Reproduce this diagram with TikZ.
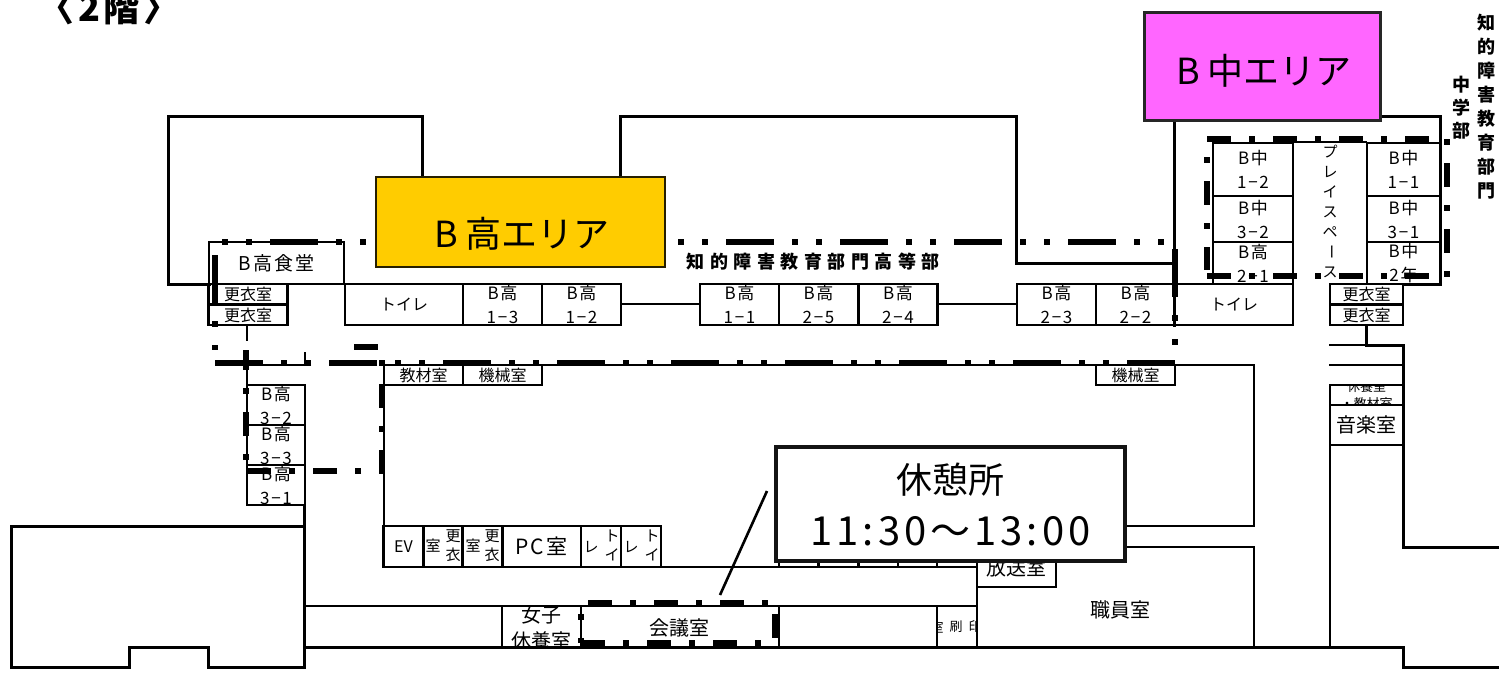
\documentclass[tikz,border=0pt]{standalone}
\usepackage{fontspec}
\setmainfont{Noto Sans CJK JP}
\newfontfamily\spacedfont[LetterSpace=10]{Noto Sans CJK JP}
\definecolor{areayellow}{rgb}{1,0.8,0}
\definecolor{areapink}{rgb}{1,0.4,1}
\begin{document}
\begin{tikzpicture}[
x=1pt, y=-1pt,
wall/.style ={line width=2.2pt, line cap=rect},
thickwall/.style ={line width=3pt, line join=miter, line cap=rect},
longchain/.style ={line width=6pt, dash pattern=on 48pt off 18pt on 6pt off 18pt on 6pt off 18pt},
shortchain/.style ={line width=6pt, dash pattern=on 24pt off 18pt on 6pt off 18pt},
room/.style ={shape=rectangle, draw, line width=2.2pt, inner sep=0pt, align=center, font=\fontsize{16}{24}\selectfont},
classroom/.style ={room, minimum width=79pt, minimum height=41pt, font=\spacedfont\fontsize{17}{24}\selectfont},
sideroom/.style ={classroom, minimum width=58pt, minimum height=40pt},
halfroom/.style ={room, minimum width=79pt, minimum height=20pt},
narrowroom/.style ={room, minimum width=40pt, minimum height=41pt},
label/.style ={inner sep=0pt, align=center, font=\fontsize{15}{24}\selectfont},
biglabel/.style ={inner sep=0pt, align=center, font=\fontsize{20}{26}\selectfont},
tinylabel/.style ={inner sep=0pt, font=\fontsize{15}{16}\selectfont},
boldlabel/.style ={inner sep=0pt, font=\fontsize{18}{20}\selectfont\bfseries},
arealabel/.style ={inner sep=0pt, font=\fontsize{36}{40}\selectfont},
]
\useasboundingbox (0,0) rectangle (1499,694);
% outer walls
\draw[thickwall] (422,178) -- (422,116) -- (168,116) -- (168,284) -- (209,284);
\draw[thickwall] (620,178) -- (620,116) -- (1016,116) -- (1016,263) -- (1175,263);
\draw[thickwall] (1380,116) -- (1440,116) -- (1440,284) -- (1403,284);
\draw[thickwall] (1174,120) -- (1174,325);
\draw[thickwall] (11,667) -- (11,526) -- (304,526);
\draw[thickwall] (11,667) -- (129,667) -- (129,647) -- (208,647) -- (208,667) -- (304,667) -- (304,505);
\draw[thickwall] (304,647) -- (1403,647) -- (1403,667) -- (1499,667);
\draw[thickwall] (1366,325) -- (1366,345) -- (1403,345) -- (1403,547) -- (1499,547);
\draw[wall] (1330,345) -- (1403,345);
\draw[wall] (1330,365) -- (1403,365);
\draw[wall] (1330,385) -- (1330,647);
\draw[wall] (247,325) -- (247,340);
\draw[wall] (247,353) -- (247,385);
\draw[wall] (247,365) -- (305,365) -- (305,353);
\draw[wall] (384,526) -- (384,365) -- (1254,365) -- (1254,526) -- (1120,526);
\draw[wall] (1120,547) -- (1254,547) -- (1254,647);
\draw[wall] (660,567) -- (977,567);
\draw[wall] (304,606) -- (977,606);
\draw[wall] (977,587) -- (977,647);
\draw[wall] (621,304) -- (700,304);
\draw[wall] (938,304) -- (1017,304);
% rooms in the upper strip
\node[room, minimum width=135pt, minimum height=42pt, font=\spacedfont\fontsize{19}{24}\selectfont] (diner) at (276.5,263) {B高食堂};
\node[halfroom] (lockerA) at (248,294) {更衣室};
\node[halfroom] (lockerB) at (248,315) {更衣室};
\node[room, minimum width=118pt, minimum height=41pt] (toiletA) at (404,304.5) {トイレ};
\node[classroom] (k13) at (502.5,304.5) {B高\\1−3};
\node[classroom] (k12) at (581.5,304.5) {B高\\1−2};
\node[classroom] (k11) at (739.5,304.5) {B高\\1−1};
\node[classroom] (k25) at (818.5,304.5) {B高\\2−5};
\node[classroom] (k24) at (898,304.5) {B高\\2−4};
\node[classroom] (k23) at (1056.5,304.5) {B高\\2−3};
\node[classroom] (k22) at (1135.5,304.5) {B高\\2−2};
\node[room, minimum width=118pt, minimum height=41pt] (toiletB) at (1234,304.5) {トイレ};
\node[halfroom, minimum width=73pt] (lockerC) at (1366.5,294) {更衣室};
\node[halfroom, minimum width=73pt] (lockerD) at (1366.5,315) {更衣室};
% rooms of the left wing
\node[sideroom] (k32) at (276,405) {B高\\3−2};
\node[sideroom] (k33) at (276,445) {B高\\3−3};
\node[sideroom] (k31) at (276,485) {B高\\3−1};
% rooms of the right wing
\node[classroom, minimum width=80pt, minimum height=53pt] (c12) at (1253,169.5) {B中\\1−2};
\node[classroom, minimum width=80pt, minimum height=46pt] (c32) at (1253,219) {B中\\3−2};
\node[classroom, minimum width=80pt, minimum height=42pt] (k21) at (1253,263) {B高\\2−1};
\node[classroom, minimum width=73pt, minimum height=53pt] (c11) at (1403.5,169.5) {B中\\1−1};
\node[classroom, minimum width=73pt, minimum height=46pt] (c31) at (1403.5,219) {B中\\3−1};
\node[classroom, minimum width=73pt, minimum height=42pt] (c2) at (1403.5,263) {B中\\2年};
\draw[wall] (c12.north east) -- (c11.north west);
\foreach \ch/\ang [count=\i] in {プ/0,レ/0,イ/0,ス/0,ペ/0,ー/-90,ス/0}
  \node[label, rotate=\ang] (play\i) at (1330,132+20*\i) {\ch};
% right column
\node[room, minimum width=73pt, minimum height=20pt] (rest) at (1366.5,395) {};
\begin{scope}
\clip (1330,385) rectangle (1403,405);
\node[inner sep=0pt, align=center, font=\fontsize{13}{17}\selectfont] (resttext) at (1366.5,395) {休養室\\・教材室};
\end{scope}
\node[biglabel, draw, line width=2.2pt, minimum width=73pt, minimum height=40pt] (music) at (1366.5,425) {音楽室};
% centre block
\node[halfroom] (store) at (423.5,375) {教材室};
\node[halfroom] (machineA) at (502.5,375) {機械室};
\node[halfroom] (machineB) at (1135.5,375) {機械室};
\node[narrowroom] (ev) at (403.5,546.5) {EV};
\node[narrowroom] (chgA) at (443,546.5) {};
\node[narrowroom] (chgB) at (482.5,546.5) {};
\node[classroom, font=\spacedfont\fontsize{21}{24}\selectfont] (pc) at (541.5,546.5) {PC室};
\node[narrowroom] (wcA) at (601,546.5) {};
\node[narrowroom] (wcB) at (641,546.5) {};
\node[tinylabel] (chgA1) at (433,546) {室};
\node[tinylabel] (chgA2) at (453,536) {更};
\node[tinylabel] (chgA3) at (453,555) {衣};
\node[tinylabel] (chgB1) at (473,546) {室};
\node[tinylabel] (chgB2) at (492,536) {更};
\node[tinylabel] (chgB3) at (492,555) {衣};
\node[tinylabel] (wcA1) at (591,547) {レ};
\node[tinylabel] (wcA2) at (612,536) {ト};
\node[tinylabel] (wcA3) at (612,555) {イ};
\node[tinylabel] (wcB1) at (631,547) {レ};
\node[tinylabel] (wcB2) at (652,536) {ト};
\node[tinylabel] (wcB3) at (652,555) {イ};
\node[narrowroom] (hidA) at (799,546.5) {};
\node[narrowroom] (hidB) at (838.5,546.5) {};
\node[narrowroom] (hidC) at (878,546.5) {};
\node[narrowroom] (hidD) at (957,546.5) {};
\node[room, minimum width=79pt, minimum height=50pt] (broadcast) at (1016.5,562) {};
\node[biglabel] (broadtext) at (1016.5,568) {放送室};
% lower strip
\begin{scope}
\clip (502,606) rectangle (581,647);
\node[biglabel] (nurse) at (541.5,628) {女子\\休養室};
\end{scope}
\draw[wall] (502,606) -- (502,647);
\draw[wall] (581,606) -- (581,647);
\node[biglabel] (meeting) at (679,628) {会議室};
\draw[wall] (779,606) -- (779,647);
\draw[wall] (937,606) -- (937,647);
\begin{scope}
\clip (937,606) rectangle (977,647);
\node[inner sep=0pt, font=\fontsize{13}{16}\selectfont] (printA) at (937,627) {室};
\node[inner sep=0pt, font=\fontsize{13}{16}\selectfont] (printB) at (956,627) {刷};
\node[inner sep=0pt, font=\fontsize{13}{16}\selectfont] (printC) at (975,627) {印};
\end{scope}
\node[biglabel] (staff) at (1120,610) {職員室};
% chain lines round the areas
\draw[longchain, dash phase=65pt] (221,242) -- (1175,242);
\draw[longchain] (1175,249) -- (1175,347);
\draw[longchain] (1175,363) -- (215,363);
\draw[longchain] (215,255) -- (215,350);
\draw[line width=6pt] (354,347) -- (378,347);
\draw[shortchain, dash phase=42pt] (382,360) -- (382,471) -- (247,471);
\draw[shortchain, dash phase=42pt] (246,460) -- (246,350);
\draw[shortchain] (1207,138.5) -- (1430,138.5);
\draw[shortchain, dash phase=42pt] (1447,139) -- (1447,278);
\draw[shortchain] (1207,276) -- (1430,276);
\draw[shortchain, dash phase=42pt] (1207,157) -- (1207,270);
\draw[shortchain] (588,603) -- (768,603);
\draw[shortchain] (581,643) -- (761,643);
\draw[shortchain, dash phase=42pt] (581,614) -- (581,643);
\draw[line width=6pt] (775,614) -- (775,638);
% captions
\node[inner sep=0pt, font=\spacedfont\fontsize{36}{40}\selectfont\bfseries] (title) at (109,8) {〈2階〉};
\foreach \ch [count=\i] in {知,的,障,害,教,育,部,門}
  \node[boldlabel] (dept\i) at (1486,-1+24*\i) {\ch};
\foreach \ch [count=\i] in {中,学,部}
  \node[boldlabel] (junior\i) at (1461,62+23*\i) {\ch};
\foreach \ch [count=\i] in {知,的,障,害,教,育,部,門,高,等,部}
  \node[boldlabel] (senior\i) at (672+23.5*\i,262) {\ch};
% areas
\node[draw=black!85!areayellow, line width=1.5pt, fill=areayellow, minimum width=289pt, minimum height=90pt] (kouarea) at (520.5,222) {};
\node[arealabel] (koutext) at (522,234) {B 高エリア};
\node[draw=black!85, line width=3pt, fill=areapink, minimum width=236pt, minimum height=108pt] (chuarea) at (1262,66) {};
\node[arealabel] (chutext) at (1264,71) {B 中エリア};
\node[draw=black!92, line width=3.5pt, fill=white, minimum width=349pt, minimum height=114pt, align=center, inner sep=0pt, font=\spacedfont\fontsize{40}{48}\selectfont] (restbox) at (950.5,504) {\normalfont\fontsize{36}{48}\selectfont 休憩所\\[4pt]11:30〜13:00};
\coordinate (calltop) at (767,491);
\coordinate (callend) at (720,595);
\draw[line width=2.6pt] (calltop) -- (callend);
\end{tikzpicture}
\end{document}
